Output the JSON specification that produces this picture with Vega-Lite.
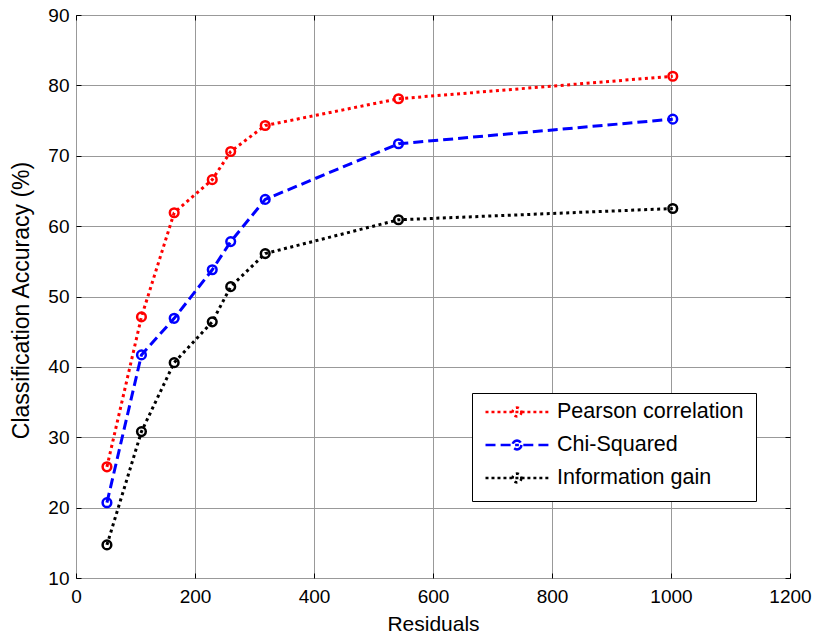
{
  "$schema": "https://vega.github.io/schema/vega-lite/v6.json",
  "autosize": {"type": "none"},
  "padding": {"left": 76, "top": 15, "right": 26, "bottom": 61},
  "width": 714,
  "height": 563,
  "background": "white",
  "config": {
    "font": "Liberation Sans",
    "view": {"stroke": "black", "strokeWidth": 1},
    "axis": {"labelColor": "black", "titleColor": "black", "labelFont": "Liberation Sans", "titleFont": "Liberation Sans", "titleFontWeight": "normal", "domain": false, "tickColor": "black", "gridColor": "#999999", "gridOpacity": 1, "gridWidth": 1}
  },
  "data": {
    "values": [
      {"series": "Pearson correlation", "x": 52, "y": 25.8},
      {"series": "Pearson correlation", "x": 110, "y": 47.1},
      {"series": "Pearson correlation", "x": 165, "y": 61.9},
      {"series": "Pearson correlation", "x": 229, "y": 66.6},
      {"series": "Pearson correlation", "x": 260, "y": 70.6},
      {"series": "Pearson correlation", "x": 318, "y": 74.3},
      {"series": "Pearson correlation", "x": 542, "y": 78.1},
      {"series": "Pearson correlation", "x": 1003, "y": 81.3},
      {"series": "Chi-Squared", "x": 52, "y": 20.7},
      {"series": "Chi-Squared", "x": 110, "y": 41.7},
      {"series": "Chi-Squared", "x": 165, "y": 46.9},
      {"series": "Chi-Squared", "x": 229, "y": 53.8},
      {"series": "Chi-Squared", "x": 260, "y": 57.8},
      {"series": "Chi-Squared", "x": 318, "y": 63.8},
      {"series": "Chi-Squared", "x": 542, "y": 71.7},
      {"series": "Chi-Squared", "x": 1003, "y": 75.2},
      {"series": "Information gain", "x": 52, "y": 14.7},
      {"series": "Information gain", "x": 110, "y": 30.8},
      {"series": "Information gain", "x": 165, "y": 40.6},
      {"series": "Information gain", "x": 229, "y": 46.4},
      {"series": "Information gain", "x": 260, "y": 51.4},
      {"series": "Information gain", "x": 318, "y": 56.1},
      {"series": "Information gain", "x": 542, "y": 60.9},
      {"series": "Information gain", "x": 1003, "y": 62.5}
    ]
  },
  "resolve": {"axis": {"x": "independent", "y": "independent"}},
  "layer": [
    {
      "mark": {"type": "line", "strokeWidth": 3, "clip": true},
      "encoding": {
        "x": {"field": "x", "type": "quantitative", "scale": {"domain": [0, 1200], "nice": false, "zero": false},
          "axis": {"orient": "bottom", "values": [0, 200, 400, 600, 800, 1000, 1200], "format": "d", "title": "Residuals", "titleFontSize": 21, "titlePadding": 7, "labelFontSize": 19, "tickSize": -5, "labelPadding": 14, "grid": true, "labelFlush": false, "labelOverlap": false}},
        "y": {"field": "y", "type": "quantitative", "scale": {"domain": [10, 90], "nice": false, "zero": false},
          "axis": {"orient": "left", "values": [10, 20, 30, 40, 50, 60, 70, 80, 90], "title": "Classification Accuracy (%)", "titleFontSize": 23, "titleX": -55, "titleY": 285, "titleAngle": -90, "titleBaseline": "middle", "titleAlign": "center", "labelFontSize": 19, "tickSize": -5, "labelPadding": 12, "grid": true, "labelFlush": false, "labelOverlap": false}},
        "color": {"field": "series", "type": "nominal",
          "scale": {"domain": ["Pearson correlation", "Chi-Squared", "Information gain"], "range": ["#ff0000", "#0000ff", "#000000"]},
          "legend": {"orient": "none", "legendX": 396, "legendY": 378, "title": null, "fillColor": "white", "strokeColor": "black", "padding": 12, "labelFontSize": 21.5, "labelFont": "Liberation Sans", "labelColor": "black", "labelLimit": 400, "symbolSize": 3969, "symbolStrokeWidth": 2.5, "clipHeight": 14, "rowPadding": 11, "labelOffset": 7, "symbolOpacity": 1, "symbolFillColor": "transparent"}},
        "strokeDash": {"field": "series", "type": "nominal",
          "scale": {"domain": ["Pearson correlation", "Chi-Squared", "Information gain"], "range": [[3, 3.5], [10, 5], [3, 3.5]]},
          "legend": null}
      }
    },
    {
      "mark": {"type": "point", "shape": "circle", "filled": false, "size": 75, "strokeWidth": 2.5, "opacity": 1},
      "encoding": {
        "x": {"field": "x", "type": "quantitative", "axis": {"orient": "top", "labels": false, "title": null, "tickSize": -5, "grid": false, "values": [0, 200, 400, 600, 800, 1000, 1200]}},
        "y": {"field": "y", "type": "quantitative", "axis": {"orient": "right", "labels": false, "title": null, "tickSize": -5, "grid": false, "values": [10, 20, 30, 40, 50, 60, 70, 80, 90]}},
        "color": {"field": "series", "type": "nominal",
          "scale": {"domain": ["Pearson correlation", "Chi-Squared", "Information gain"], "range": ["#ff0000", "#0000ff", "#000000"]},
          "legend": {"orient": "none", "legendX": 396, "legendY": 378, "title": null, "fillColor": "white", "strokeColor": "black", "padding": 12, "labelFontSize": 21.5, "labelFont": "Liberation Sans", "labelColor": "black", "labelLimit": 400, "symbolSize": 3969, "symbolStrokeWidth": 2.5, "clipHeight": 14, "rowPadding": 11, "labelOffset": 7, "symbolOpacity": 1, "symbolFillColor": "transparent"}}
      }
    },
    {
      "mark": {"type": "point", "filled": false, "opacity": 0, "strokeWidth": 2.5},
      "encoding": {
        "x": {"field": "x", "type": "quantitative", "axis": null},
        "y": {"field": "y", "type": "quantitative", "axis": null},
        "color": {"field": "series", "type": "nominal",
          "scale": {"domain": ["Pearson correlation", "Chi-Squared", "Information gain"], "range": ["#ff0000", "#0000ff", "#000000"]},
          "legend": {"orient": "none", "legendX": 396, "legendY": 378, "title": null, "fillColor": "white", "strokeColor": "black", "padding": 12, "labelFontSize": 21.5, "labelFont": "Liberation Sans", "labelColor": "black", "labelLimit": 400, "symbolSize": 3969, "symbolStrokeWidth": 2.5, "clipHeight": 14, "rowPadding": 11, "labelOffset": 7, "symbolOpacity": 1, "symbolFillColor": "transparent"}},
        "shape": {"field": "series", "type": "nominal",
          "scale": {"domain": ["Pearson correlation", "Chi-Squared", "Information gain"], "range": [
            "M-1,0H-0.9M-0.81,0H-0.71M-0.62,0H-0.52M-0.43,0H-0.33M-0.24,0H-0.16M-0.05,0H0.05M0.16,0H0.24M0.33,0H0.43M0.52,0H0.62M0.71,0H0.81M0.9,0H1M0.14,0L0.1293,0.0536L0.099,0.099L0.0536,0.1293L0,0.14L-0.0536,0.1293L-0.099,0.099L-0.1293,0.0536L-0.14,0L-0.1293,-0.0536L-0.099,-0.099L-0.0536,-0.1293L0,-0.14L0.0536,-0.1293L0.099,-0.099L0.1293,-0.0536Z",
            "M-1,0H-0.68M-0.52,0H-0.2M-0.06,0H0.06M0.2,0H0.52M0.68,0H1M0.14,0L0.1293,0.0536L0.099,0.099L0.0536,0.1293L0,0.14L-0.0536,0.1293L-0.099,0.099L-0.1293,0.0536L-0.14,0L-0.1293,-0.0536L-0.099,-0.099L-0.0536,-0.1293L0,-0.14L0.0536,-0.1293L0.099,-0.099L0.1293,-0.0536Z",
            "M-1,0H-0.9M-0.81,0H-0.71M-0.62,0H-0.52M-0.43,0H-0.33M-0.24,0H-0.16M-0.05,0H0.05M0.16,0H0.24M0.33,0H0.43M0.52,0H0.62M0.71,0H0.81M0.9,0H1M0.14,0L0.1293,0.0536L0.099,0.099L0.0536,0.1293L0,0.14L-0.0536,0.1293L-0.099,0.099L-0.1293,0.0536L-0.14,0L-0.1293,-0.0536L-0.099,-0.099L-0.0536,-0.1293L0,-0.14L0.0536,-0.1293L0.099,-0.099L0.1293,-0.0536Z"
          ]},
          "legend": {"orient": "none", "legendX": 396, "legendY": 378, "title": null, "fillColor": "white", "strokeColor": "black", "padding": 12, "labelFontSize": 21.5, "labelFont": "Liberation Sans", "labelColor": "black", "labelLimit": 400, "symbolSize": 3969, "symbolStrokeWidth": 2.5, "clipHeight": 14, "rowPadding": 11, "labelOffset": 7, "symbolOpacity": 1, "symbolFillColor": "transparent"}}
      }
    }
  ]
}
